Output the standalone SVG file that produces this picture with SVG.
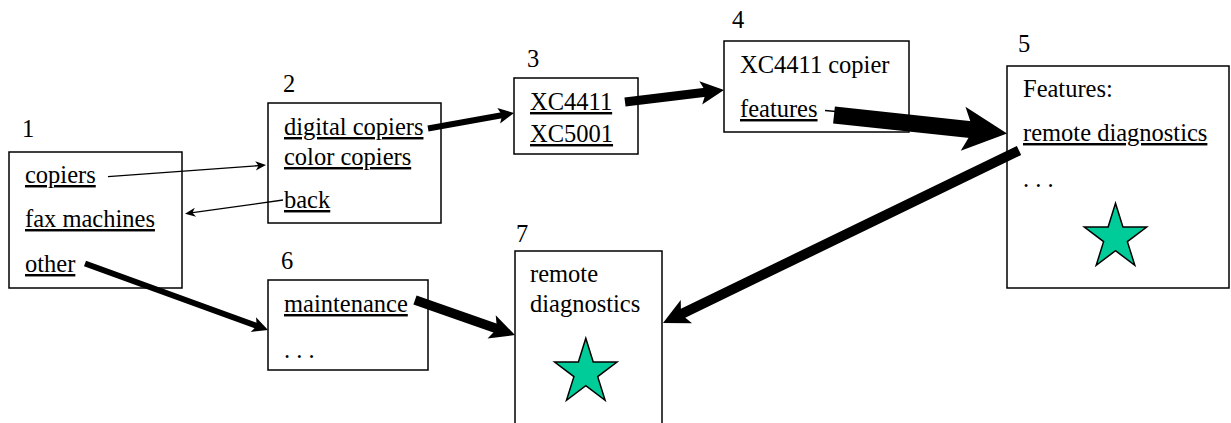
<svg xmlns="http://www.w3.org/2000/svg" width="1231" height="423" viewBox="0 0 1231 423">
<style>
text{font-family:"Liberation Serif","Times New Roman",serif;font-size:24.5px;fill:#000}
.u{text-decoration:underline}
.box{fill:#fff;stroke:#000;stroke-width:1.5}
.thick{stroke:#000;fill:none;stroke-linecap:butt;marker-end:url(#big)}
.thin{stroke:#000;fill:none;stroke-width:1.3;marker-end:url(#small)}
.star{fill:#00CC99;stroke:#000;stroke-width:1.5;stroke-linejoin:miter}
</style>
<defs>
<marker id="big" markerUnits="strokeWidth" viewBox="-0.1 -1.5 3 3" markerWidth="3" markerHeight="3" refX="1.0" refY="0" orient="auto" overflow="visible">
<path d="M2.6,0 L0,-1.3 L0.6,0 L0,1.3 Z" fill="#000"/>
</marker>
<marker id="small" markerUnits="userSpaceOnUse" viewBox="-1 -6 12 12" markerWidth="12" markerHeight="12" refX="6" refY="0" orient="auto" overflow="visible">
<path d="M10,0 L-0.5,-4.6 L2.5,0 L-0.5,4.6 Z" fill="#000"/>
</marker>
<path id="starShape" class="star" d="M0,-34.3 L7.4,-10.6 L31.2,-10.6 L11.9,4.0 L19.3,27.7 L0,13.1 L-19.3,27.7 L-11.9,4.0 L-31.2,-10.6 L-7.4,-10.6 Z"/>
</defs>
<rect width="1231" height="423" fill="#fff"/>

<g id="node1">
<text x="22" y="137">1</text>
<rect class="box" x="9" y="152" width="173" height="136"/>
<text class="u" x="25" y="183">copiers</text>
<text class="u" x="25" y="227">fax machines</text>
<text class="u" x="25" y="272">other</text>
</g>

<g id="node2">
<text x="283" y="92">2</text>
<rect class="box" x="268" y="103" width="173" height="120"/>
<text class="u" x="284" y="135">digital copiers</text>
<text class="u" x="284" y="165">color copiers</text>
<text class="u" x="284" y="208">back</text>
</g>

<g id="node3">
<text x="527" y="67">3</text>
<rect class="box" x="514" y="78" width="124" height="76"/>
<text class="u" x="530" y="110">XC4411</text>
<text class="u" x="530" y="142">XC5001</text>
</g>

<g id="node4">
<text x="732" y="28">4</text>
<rect class="box" x="724" y="41" width="185" height="91"/>
<text x="740" y="73">XC4411 copier</text>
<text class="u" x="740" y="117">features</text>
</g>

<g id="node5">
<text x="1018" y="52">5</text>
<rect class="box" x="1007" y="66" width="222" height="222"/>
<text x="1023" y="97">Features:</text>
<text class="u" x="1023" y="141">remote diagnostics</text>
<text x="1023" y="187">. . .</text>
<use href="#starShape" x="1115.5" y="237.6"/>
</g>

<g id="node6">
<text x="281" y="269">6</text>
<rect class="box" x="268" y="280" width="160" height="90"/>
<text class="u" x="284" y="312">maintenance</text>
<text x="284" y="358">. . .</text>
</g>

<g id="node7">
<text x="516" y="242">7</text>
<rect class="box" x="515" y="251" width="147" height="190"/>
<text x="530" y="282">remote</text>
<text x="530" y="312">diagnostics</text>
<use href="#starShape" x="585.8" y="372.6"/>
</g>

<g id="connectors">
<line class="thin" x1="108" y1="176.7" x2="262" y2="165.4"/>
<line class="thin" x1="283" y1="200" x2="189" y2="213.2"/>
<line class="thick" stroke-width="6" x1="428" y1="128.5" x2="504.6" y2="114.7"/>
<line class="thick" stroke-width="9" x1="625" y1="102" x2="709.7" y2="91.7"/>
<line stroke="#000" stroke-width="1.3" x1="825" y1="110.5" x2="836" y2="111.5"/>
<line class="thick" stroke-width="17" x1="834" y1="115" x2="980" y2="130.6"/>
<line class="thick" stroke-width="10" x1="1019" y1="150.5" x2="677.4" y2="316"/>
<line class="thick" stroke-width="6" x1="85" y1="263.5" x2="259" y2="326.7"/>
<line class="thick" stroke-width="9.5" x1="415" y1="300" x2="500.6" y2="330"/>
</g>
</svg>
